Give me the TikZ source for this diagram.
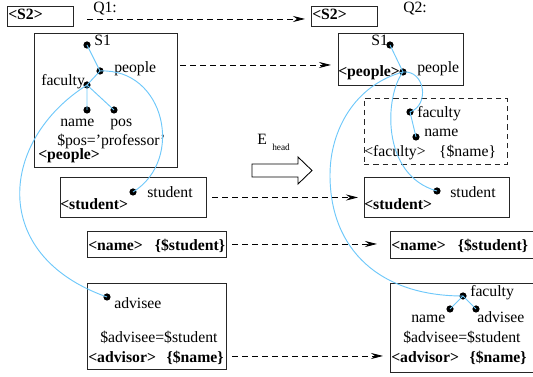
\documentclass[tikz,border=0pt]{standalone}
\usepackage{fontspec}
\setmainfont{Liberation Serif}
\usetikzlibrary{arrows.meta,fit}
\definecolor{curveblue}{RGB}{110,200,250}
\begin{document}
\begin{tikzpicture}[x=0.75pt,y=-0.75pt,
 box/.style={draw=black!85, line width=0.65pt, inner sep=0pt, outer sep=0pt},
 dbox/.style={box, dash pattern=on 4pt off 3pt},
 dot/.style={circle, fill=black, inner sep=0pt, minimum size=5.4pt},
 lbl/.style={anchor=base west, inner sep=0pt, font=\fontsize{11.8}{14}\selectfont},
 blbl/.style={anchor=base west, inner sep=0pt, font=\fontsize{11.8}{14}\selectfont\bfseries},
 darrow/.style={line width=0.6pt, dash pattern=on 4.5pt off 3pt, -{Stealth[length=9pt,width=4.5pt,inset=3pt]}},
 bline/.style={draw=curveblue, line width=0.7pt}]
\useasboundingbox (0,0) rectangle (533,377);

% ---------- boxes ----------
\node[box, fit={(7,6)(73,26)}] (LS2) {};
\node[box, fit={(311,6)(377,26)}] (RS2) {};
\node[box, fit={(34,33)(177,167)}] (Lpeople) {};
\node[box, fit={(338,33)(463,85)}] (Rpeople) {};
\node[dbox, fit={(364,98)(507,164)}] (Rfaculty) {};
\node[box, fit={(60,177)(206,217)}] (Lstudent) {};
\node[box, fit={(364,177)(509,217)}] (Rstudent) {};
\node[box, fit={(87,231)(226,257)}] (Lname) {};
\node[box, fit={(390,231)(536,258)}] (Rname) {};
\node[box, fit={(87,283)(226,369)}] (Ladvisor) {};
\node[box, fit={(390,283)(536,372)}] (Radvisor) {};

% ---------- texts ----------
\node[blbl] (tLS2) at (8,20) {<S2>};
\node[blbl] (tRS2) at (312,20) {<S2>};
\node[lbl] (tQ1) at (93,13) {Q1:};
\node[lbl] (tQ2) at (403,13) {Q2:};

\node[lbl] (tlS1) at (94,46) {S1};
\node[lbl] (tlpeople) at (114,73) {people};
\node[lbl] (tlfac) at (41,86) {faculty};
\node[lbl] (tlname) at (60,127) {name};
\node[lbl] (tlpos) at (110,127) {pos};
\node[lbl] (tlcond) at (57,146) {\$pos='professor'};
\node[blbl] (tlpeopletag) at (38,160) {<people>};

\node[lbl] (tlstud) at (147,198) {student};
\node[blbl] (tlstudtag) at (60,210) {<student>};
\node[blbl] (tlnametag) at (88,251) {<name>\hspace{9pt}\{\$student\}};
\node[lbl] (tladv) at (114,309) {advisee};
\node[lbl] (tladvcond) at (100,343) {\$advisee=\$student};
\node[blbl] (tladvtag) at (88,363) {<advisor>\hspace{8pt}\{\$name\}};

\node[lbl] (trS1) at (371,46) {S1};
\node[lbl] (trpeople) at (417,73) {people};
\node[blbl] (trpeopletag) at (338,77) {<people>};
\node[lbl] (trfac) at (417,118) {faculty};
\node[lbl] (trname) at (424,137) {name};
\node[lbl] (trfactag) at (364,157) {<faculty>\hspace{10pt}\{\$name\}};
\node[lbl] (trstud) at (450,198) {student};
\node[blbl] (trstudtag) at (364,210) {<student>};
\node[blbl] (trnametag) at (391,251) {<name>\hspace{9pt}\{\$student\}};
\node[lbl] (trfac2) at (470,297) {faculty};
\node[lbl] (trname2) at (411,323) {name};
\node[lbl] (tradv2) at (477,323) {advisee};
\node[lbl] (tradvcond) at (403,343) {\$advisee=\$student};
\node[blbl] (tradvtag) at (391,363) {<advisor>\hspace{8pt}\{\$name\}};

\node[lbl] (tE) at (257,145) {E};
\node[anchor=base west, inner sep=0pt, font=\fontsize{7}{8}\selectfont] (thead) at (272,151) {head};

% ---------- block arrow ----------
\draw[line width=0.65pt] (252,164) -- (298,164) -- (298,157) -- (312,170.5) -- (298,184) -- (298,177) -- (252,177) -- cycle;

% ---------- dots ----------
\node[dot] (lS1) at (87,45) {};
\node[dot] (lpeople) at (100,71) {};
\node[dot] (lfac) at (87,85) {};
\node[dot] (lname) at (87,110) {};
\node[dot] (lpos) at (114,110) {};
\node[dot] (lstud) at (133,192) {};
\node[dot] (ladv) at (107,297) {};
\node[dot] (rS1) at (390,45) {};
\node[dot] (rpeople) at (403,72) {};
\node[dot] (rfac) at (410,112) {};
\node[dot] (rname) at (416,137) {};
\node[dot] (rstud) at (437,191) {};
\node[dot] (rfac2) at (463,296) {};
\node[dot] (rname2) at (450,309) {};
\node[dot] (radv2) at (476,309) {};

% ---------- blue edges ----------
\draw[bline] (lS1.center) -- (lpeople.center) -- (lfac.center) -- (lname.center);
\draw[bline] (lfac.center) -- (lpos.center);
\draw[bline] (lpeople.center) .. controls (165,68) and (185,160) .. (lstud.center);
\draw[bline] (lfac.center) .. controls (0,140) and (-12,255) .. (ladv.center);

\draw[bline] (rS1.center) -- (rpeople.center);
\draw[bline] (rfac.center) -- (rname.center);
\draw[bline] (rpeople.center) .. controls (425,70) and (430,105) .. (rfac.center);
\draw[bline] (rpeople.center) .. controls (385,95) and (380,175) .. (rstud.center);
\draw[bline] (rpeople.center) .. controls (355,85) and (330,130) .. (330,175)
  .. controls (330,250) and (380,296) .. (rfac2.center);
\draw[bline] (rname2.center) -- (rfac2.center) -- (radv2.center);

% ---------- dashed arrows ----------
\coordinate (q1s) at (87,19);
\draw[darrow] (q1s) -- ([shift={(-6,3)}]RS2.west);
\draw[darrow] ([shift={(3,-35)}]Lpeople.east) -- ([shift={(-7,6)}]Rpeople.west);
\draw[darrow] ([shift={(6,0.5)}]Lstudent.east) -- ([shift={(-6,0.5)}]Rstudent.west);
\draw[darrow] ([shift={(6,0)}]Lname.east) -- ([shift={(-13,-0.5)}]Rname.west);
\draw[darrow] ([shift={(6,30)}]Ladvisor.east) -- ([shift={(-7,28.5)}]Radvisor.west);
\end{tikzpicture}
\end{document}
